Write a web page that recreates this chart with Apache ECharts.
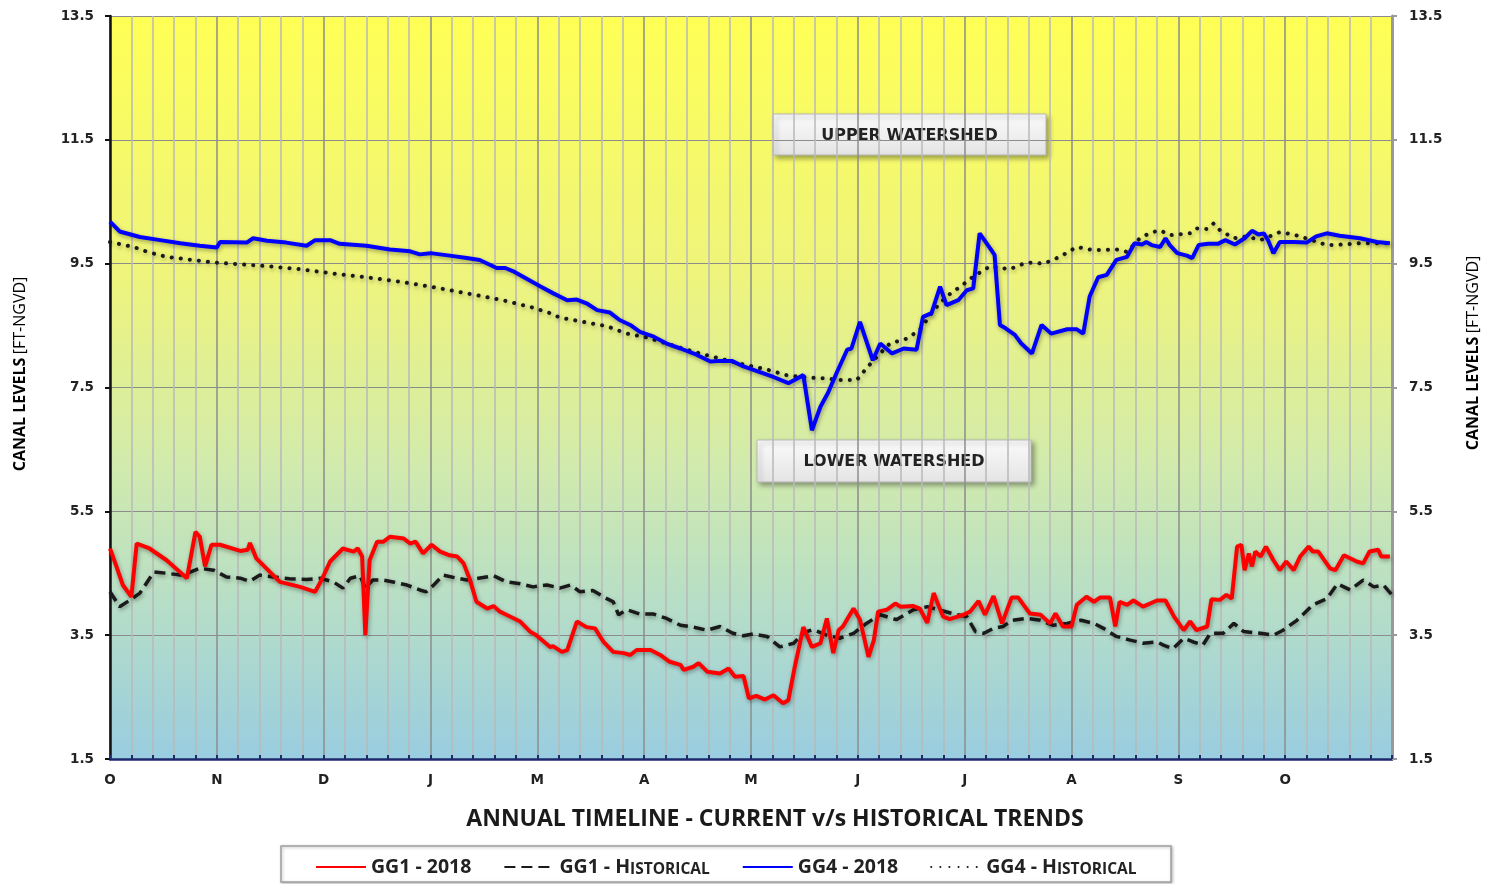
<!DOCTYPE html>
<html>
<head>
<meta charset="utf-8">
<script src="https://cdn.jsdelivr.net/npm/echarts@6/dist/echarts.min.js"></script>
<style>
  html, body { margin: 0; padding: 0; background: #fff; }
  #chart { width: 1501px; height: 884px; }
</style>
</head>
<body>
<div id="chart"></div>
<script>
// month labels along the water year (as printed on the original)
const monthLabels = ["O", "N", "D", "J", "M", "A", "M", "J", "J", "A", "S", "O"];
const yTicks = [1.5, 3.5, 5.5, 7.5, 9.5, 11.5, 13.5];

// x = months since start of October, y = canal level (ft NGVD)
const gg1Current = [
  [0.00, 4.90], [0.06, 4.61], [0.12, 4.31], [0.20, 4.12], [0.25, 4.98], [0.37, 4.90],
  [0.53, 4.71], [0.72, 4.42], [0.80, 5.17], [0.84, 5.09], [0.89, 4.61], [0.95, 4.96],
  [1.03, 4.96], [1.22, 4.86], [1.29, 4.88], [1.31, 4.99], [1.37, 4.74], [1.59, 4.36],
  [1.78, 4.28], [1.92, 4.20], [1.98, 4.39], [2.06, 4.69], [2.18, 4.90], [2.28, 4.85],
  [2.32, 4.90], [2.36, 4.77], [2.39, 3.50], [2.43, 4.71], [2.50, 5.01], [2.56, 5.01],
  [2.62, 5.09], [2.75, 5.06], [2.81, 4.98], [2.86, 5.01], [2.93, 4.82], [3.01, 4.96],
  [3.09, 4.85], [3.18, 4.79], [3.25, 4.77], [3.31, 4.66], [3.37, 4.39], [3.43, 4.04],
  [3.53, 3.93], [3.59, 3.97], [3.65, 3.88], [3.71, 3.83], [3.84, 3.72], [3.93, 3.56],
  [3.99, 3.50], [4.12, 3.31], [4.15, 3.32], [4.23, 3.23], [4.28, 3.26], [4.37, 3.72],
  [4.46, 3.63], [4.54, 3.61], [4.62, 3.39], [4.71, 3.23], [4.81, 3.21], [4.87, 3.18],
  [4.93, 3.26], [5.06, 3.26], [5.15, 3.18], [5.24, 3.07], [5.34, 3.02], [5.37, 2.94],
  [5.46, 2.99], [5.51, 3.05], [5.59, 2.91], [5.71, 2.88], [5.79, 2.96], [5.85, 2.83],
  [5.93, 2.84], [5.98, 2.48], [6.05, 2.52], [6.13, 2.46], [6.21, 2.53], [6.30, 2.40],
  [6.35, 2.45], [6.41, 2.99], [6.49, 3.63], [6.57, 3.31], [6.65, 3.37], [6.71, 3.77],
  [6.77, 3.21], [6.82, 3.58], [6.86, 3.64], [6.96, 3.93], [7.02, 3.75], [7.10, 3.15],
  [7.15, 3.42], [7.19, 3.88], [7.27, 3.91], [7.35, 4.01], [7.40, 3.96], [7.52, 3.97],
  [7.58, 3.93], [7.65, 3.70], [7.71, 4.18], [7.76, 3.96], [7.80, 3.80], [7.86, 3.76],
  [7.99, 3.83], [8.05, 3.88], [8.13, 4.05], [8.19, 3.83], [8.27, 4.13], [8.35, 3.69],
  [8.44, 4.11], [8.50, 4.11], [8.61, 3.85], [8.71, 3.83], [8.80, 3.69], [8.85, 3.85],
  [8.92, 3.64], [9.00, 3.64], [9.05, 3.99], [9.14, 4.12], [9.21, 4.04], [9.27, 4.11],
  [9.36, 4.11], [9.41, 3.64], [9.45, 4.04], [9.52, 3.99], [9.58, 4.06], [9.67, 3.96],
  [9.80, 4.06], [9.88, 4.06], [9.96, 3.80], [10.05, 3.58], [10.11, 3.72], [10.17, 3.58],
  [10.27, 3.64], [10.31, 4.08], [10.39, 4.07], [10.45, 4.15], [10.50, 4.09], [10.55, 4.93],
  [10.59, 4.96], [10.62, 4.55], [10.66, 4.82], [10.69, 4.61], [10.72, 4.85], [10.77, 4.77],
  [10.82, 4.93], [10.89, 4.71], [10.95, 4.55], [11.01, 4.69], [11.08, 4.55], [11.14, 4.77],
  [11.22, 4.93], [11.26, 4.85], [11.31, 4.85], [11.42, 4.58], [11.47, 4.55], [11.55, 4.79],
  [11.67, 4.69], [11.73, 4.66], [11.79, 4.85], [11.87, 4.88], [11.90, 4.77], [11.98, 4.77]
];

const gg1Historical = [
  [0.00, 4.20], [0.09, 3.96], [0.19, 4.07], [0.28, 4.18], [0.41, 4.52], [0.53, 4.50],
  [0.66, 4.47], [0.75, 4.52], [0.84, 4.58], [0.97, 4.55], [1.09, 4.44], [1.22, 4.42],
  [1.31, 4.37], [1.40, 4.47], [1.53, 4.44], [1.68, 4.41], [1.84, 4.40], [1.97, 4.42],
  [2.09, 4.36], [2.18, 4.26], [2.25, 4.42], [2.34, 4.46], [2.39, 4.26], [2.46, 4.39],
  [2.56, 4.39], [2.65, 4.36], [2.78, 4.31], [2.90, 4.23], [2.96, 4.20], [3.03, 4.31],
  [3.12, 4.47], [3.25, 4.42], [3.34, 4.39], [3.49, 4.43], [3.59, 4.46], [3.71, 4.36],
  [3.84, 4.33], [3.96, 4.28], [4.09, 4.31], [4.21, 4.26], [4.31, 4.31], [4.40, 4.20],
  [4.52, 4.22], [4.65, 4.09], [4.71, 4.04], [4.76, 3.83], [4.84, 3.91], [4.96, 3.84],
  [5.09, 3.84], [5.21, 3.77], [5.34, 3.66], [5.46, 3.63], [5.59, 3.58], [5.71, 3.64],
  [5.83, 3.53], [5.93, 3.49], [6.02, 3.52], [6.15, 3.48], [6.27, 3.31], [6.40, 3.37],
  [6.49, 3.54], [6.58, 3.59], [6.71, 3.50], [6.83, 3.45], [6.96, 3.53], [7.08, 3.69],
  [7.21, 3.83], [7.36, 3.75], [7.52, 3.91], [7.65, 3.96], [7.80, 3.89], [7.93, 3.83],
  [8.02, 3.80], [8.10, 3.56], [8.18, 3.53], [8.27, 3.61], [8.36, 3.64], [8.44, 3.74],
  [8.58, 3.77], [8.71, 3.74], [8.83, 3.66], [8.96, 3.69], [9.09, 3.74], [9.21, 3.69],
  [9.30, 3.61], [9.42, 3.48], [9.55, 3.42], [9.67, 3.37], [9.80, 3.39], [9.86, 3.34],
  [9.95, 3.28], [10.05, 3.45], [10.14, 3.39], [10.23, 3.34], [10.30, 3.53], [10.42, 3.53],
  [10.52, 3.69], [10.61, 3.56], [10.77, 3.53], [10.89, 3.50], [10.98, 3.58], [11.11, 3.74],
  [11.26, 3.99], [11.39, 4.09], [11.49, 4.33], [11.61, 4.23], [11.73, 4.39], [11.83, 4.28],
  [11.92, 4.31], [12.00, 4.15]
];

const gg4Current = [
  [0.00, 10.18], [0.09, 10.02], [0.28, 9.93], [0.47, 9.88], [0.66, 9.83], [0.84, 9.79],
  [1.00, 9.76], [1.03, 9.85], [1.28, 9.84], [1.34, 9.91], [1.47, 9.87], [1.65, 9.84],
  [1.84, 9.79], [1.92, 9.88], [2.06, 9.88], [2.15, 9.82], [2.40, 9.79], [2.62, 9.73],
  [2.81, 9.70], [2.90, 9.65], [3.00, 9.67], [3.18, 9.63], [3.34, 9.59], [3.46, 9.56],
  [3.62, 9.43], [3.70, 9.43], [3.77, 9.38], [4.03, 9.13], [4.15, 9.02], [4.28, 8.91],
  [4.37, 8.92], [4.46, 8.86], [4.56, 8.75], [4.68, 8.71], [4.77, 8.59], [4.87, 8.51],
  [4.96, 8.40], [5.09, 8.32], [5.21, 8.21], [5.34, 8.13], [5.49, 8.03], [5.62, 7.92],
  [5.71, 7.93], [5.82, 7.93], [5.93, 7.84], [6.05, 7.77], [6.21, 7.67], [6.35, 7.57],
  [6.49, 7.70], [6.57, 6.81], [6.65, 7.19], [6.72, 7.41], [6.80, 7.73], [6.90, 8.11],
  [6.94, 8.13], [7.02, 8.56], [7.14, 7.94], [7.21, 8.21], [7.32, 8.05], [7.43, 8.13],
  [7.55, 8.11], [7.61, 8.64], [7.69, 8.70], [7.77, 9.13], [7.83, 8.83], [7.94, 8.91],
  [8.02, 9.07], [8.08, 9.10], [8.14, 9.99], [8.25, 9.72], [8.28, 9.64], [8.33, 8.51],
  [8.38, 8.46], [8.47, 8.35], [8.53, 8.21], [8.63, 8.05], [8.72, 8.51], [8.81, 8.37],
  [8.96, 8.44], [9.05, 8.44], [9.11, 8.37], [9.17, 8.97], [9.25, 9.28], [9.33, 9.32],
  [9.42, 9.56], [9.52, 9.61], [9.59, 9.83], [9.66, 9.81], [9.70, 9.85], [9.75, 9.80],
  [9.83, 9.77], [9.88, 9.91], [9.92, 9.80], [9.99, 9.67], [10.08, 9.63], [10.13, 9.59],
  [10.19, 9.80], [10.28, 9.82], [10.37, 9.82], [10.44, 9.88], [10.53, 9.81], [10.62, 9.91],
  [10.69, 10.03], [10.75, 9.97], [10.80, 9.99], [10.84, 9.88], [10.89, 9.67], [10.95, 9.85],
  [11.08, 9.85], [11.20, 9.84], [11.29, 9.94], [11.39, 9.99], [11.51, 9.95], [11.70, 9.91],
  [11.86, 9.85], [11.98, 9.83]
];

const gg4Historical = [
  [0.00, 9.85], [0.22, 9.77], [0.37, 9.68], [0.53, 9.61], [0.72, 9.57], [0.97, 9.52],
  [1.22, 9.49], [1.47, 9.46], [1.78, 9.41], [2.09, 9.34], [2.40, 9.28], [2.71, 9.21],
  [3.03, 9.12], [3.34, 9.02], [3.65, 8.92], [3.96, 8.79], [4.12, 8.70], [4.21, 8.63],
  [4.43, 8.56], [4.65, 8.49], [4.84, 8.37], [5.02, 8.31], [5.21, 8.21], [5.40, 8.11],
  [5.59, 8.02], [5.77, 7.94], [5.96, 7.86], [6.15, 7.79], [6.33, 7.70], [6.52, 7.66],
  [6.68, 7.65], [6.83, 7.62], [6.99, 7.62], [7.08, 7.81], [7.18, 8.00], [7.30, 8.21],
  [7.46, 8.29], [7.58, 8.43], [7.71, 8.75], [7.83, 8.97], [7.96, 9.13], [8.08, 9.29],
  [8.24, 9.46], [8.42, 9.41], [8.58, 9.52], [8.74, 9.50], [8.89, 9.61], [9.05, 9.77],
  [9.20, 9.72], [9.42, 9.73], [9.52, 9.69], [9.64, 9.91], [9.74, 10.00], [9.83, 10.04],
  [9.92, 9.96], [10.11, 9.99], [10.17, 10.07], [10.27, 10.06], [10.33, 10.15], [10.39, 10.04],
  [10.52, 9.91], [10.64, 9.94], [10.77, 9.88], [10.95, 10.01], [11.08, 9.97], [11.23, 9.89],
  [11.39, 9.80], [11.55, 9.81], [11.70, 9.83], [11.98, 9.83]
];

const chart = echarts.init(document.getElementById("chart"));

const lineShadow = { shadowBlur: 4, shadowColor: "rgba(0,0,0,0.35)", shadowOffsetX: 1, shadowOffsetY: 2 };

function labelBox(x, y, w, h, text) {
  return {
    type: "group", x: x, y: y, z: 50,
    children: [
      { type: "rect", shape: { x: 0, y: 0, width: w, height: h },
        style: {
          fill: { type: "linear", x: 0, y: 0, x2: 0, y2: 1,
                  colorStops: [{ offset: 0, color: "#fbfbfb" }, { offset: 1, color: "#e4e4e4" }] },
          stroke: "#b8b8b8", lineWidth: 1,
          shadowBlur: 5, shadowOffsetX: 3, shadowOffsetY: 3, shadowColor: "rgba(0,0,0,0.35)"
        } },
      { type: "text", x: w / 2, y: h / 2 + 1,
        style: { text: text, align: "center", verticalAlign: "middle",
                 fontFamily: "DejaVu Sans", fontWeight: "bold", fontSize: 16, fill: "#222" } }
    ]
  };
}

const axisTitleRich = {
  b: { fontFamily: "Open Sans", fontWeight: "bold", fontSize: 16, color: "#222" },
  n: { fontFamily: "Open Sans", fontWeight: "normal", fontSize: 16, color: "#333" }
};

const tickFont = { fontFamily: "DejaVu Sans", fontWeight: "bold", fontSize: 13.5, color: "#222" };

chart.setOption({
  animation: false,
  backgroundColor: "#ffffff",
  grid: {
    left: 110, right: 109, top: 16, bottom: 125,
    show: true, borderWidth: 0,
    backgroundColor: {
      type: "linear", x: 0, y: 0, x2: 0, y2: 1,
      colorStops: [
        { offset: 0, color: "#ffff55" },
        { offset: 0.35, color: "#eef47c" },
        { offset: 0.6, color: "#d2ebac" },
        { offset: 0.8, color: "#b5ddc8" },
        { offset: 1, color: "#99cde0" }
      ]
    }
  },
  title: {
    text: "ANNUAL TIMELINE - CURRENT v/s HISTORICAL TRENDS",
    left: 770, top: 803, textAlign: "center",
    textStyle: { fontFamily: "Open Sans", fontWeight: "bold", fontSize: 23, color: "#1a1a1a" }
  },
  legend: {
    left: 310, top: 852,
    itemWidth: 50, itemHeight: 14, itemGap: 32,
    itemStyle: { opacity: 0 },
    data: ["GG1 - 2018", "GG1 - Historical", "GG4 - 2018", "GG4 - Historical"],
    formatter: function (name) {
      return name.replace("Historical", "H{sc|ISTORICAL}");
    },
    textStyle: {
      fontFamily: "Open Sans", fontWeight: "bold", fontSize: 19.5, color: "#222",
      rich: { sc: { fontFamily: "Open Sans", fontWeight: "bold", fontSize: 15.5, color: "#222",
                    padding: [6, 0, 0, 0] } }
    }
  },
  xAxis: {
    type: "value", min: 0, max: 12, interval: 1,
    axisLine: { show: true, onZero: false, lineStyle: { color: "#1f2a6e", width: 2.5 } },
    axisTick: { show: true, inside: true, length: 4, lineStyle: { color: "#1f2a6e", width: 2 } },
    minorTick: { show: true, splitNumber: 5, length: 4, lineStyle: { color: "#1f2a6e", width: 2 } },
    splitLine: { show: true, lineStyle: { color: "#8c8c8c", width: 1.5 } },
    minorSplitLine: { show: true, lineStyle: { color: "#b9b9b9", width: 1.5 } },
    axisLabel: Object.assign({ margin: 14,
      formatter: function (v) { return monthLabels[Math.round(v)] || ""; } }, tickFont)
  },
  yAxis: [
    {
      type: "value", position: "left", min: yTicks[0], max: yTicks[yTicks.length - 1], interval: 2,
      axisLine: { show: true, lineStyle: { color: "#111", width: 2.5 } },
      axisTick: { show: true, length: 5, lineStyle: { color: "#111", width: 2 } },
      splitLine: { show: true, lineStyle: { color: "#8c8c8c", width: 1.2 } },
      axisLabel: Object.assign({ margin: 16,
        formatter: function (v) { return v.toFixed(1); } }, tickFont)
    },
    {
      type: "value", position: "right", min: yTicks[0], max: yTicks[yTicks.length - 1], interval: 2,
      axisLine: { show: true, lineStyle: { color: "#9a9a9a", width: 3 } },
      axisTick: { show: true, length: 5, lineStyle: { color: "#9a9a9a", width: 2 } },
      splitLine: { show: false },
      axisLabel: Object.assign({ margin: 17,
        formatter: function (v) { return v.toFixed(1); } }, tickFont)
    }
  ],
  graphic: [
    { type: "text", x: 20, y: 374, rotation: Math.PI / 2, z: 50,
      style: { text: "{b|CANAL LEVELS} {n|[FT-NGVD]}", rich: axisTitleRich,
               align: "center", verticalAlign: "middle" } },
    { type: "text", x: 1473, y: 353, rotation: Math.PI / 2, z: 50,
      style: { text: "{b|CANAL LEVELS} {n|[FT-NGVD]}", rich: axisTitleRich,
               align: "center", verticalAlign: "middle" } },
    labelBox(773, 114, 273, 41, "UPPER WATERSHED"),
    labelBox(757, 440, 274, 42, "LOWER WATERSHED"),
    { type: "rect", z: -1, shape: { x: 281, y: 846, width: 890, height: 36 },
      style: { fill: "#fff", stroke: "#a0a0a0", lineWidth: 1.5,
               shadowBlur: 3, shadowOffsetX: 1, shadowOffsetY: 1, shadowColor: "rgba(0,0,0,0.25)" } }
  ],
  series: [
    { name: "GG1 - Historical", type: "line", data: gg1Historical, showSymbol: false, symbol: "none", z: 3,
      lineStyle: Object.assign({ color: "#1a1a1a", width: 3.5, type: [11, 6] }, lineShadow),
      itemStyle: { color: "#1a1a1a" } },
    { name: "GG4 - Historical", type: "line", data: gg4Historical, showSymbol: false, symbol: "none", z: 3,
      lineStyle: Object.assign({ color: "#1a1a1a", width: 4, type: [0.1, 9], cap: "round" }, lineShadow),
      itemStyle: { color: "#1a1a1a" } },
    { name: "GG1 - 2018", type: "line", data: gg1Current, showSymbol: false, symbol: "none", z: 4,
      lineStyle: Object.assign({ color: "#ff0000", width: 4 }, lineShadow),
      itemStyle: { color: "#ff0000" } },
    { name: "GG4 - 2018", type: "line", data: gg4Current, showSymbol: false, symbol: "none", z: 4,
      lineStyle: Object.assign({ color: "#0000ff", width: 4 }, lineShadow),
      itemStyle: { color: "#0000ff" } }
  ]
});
</script>
</body>
</html>
